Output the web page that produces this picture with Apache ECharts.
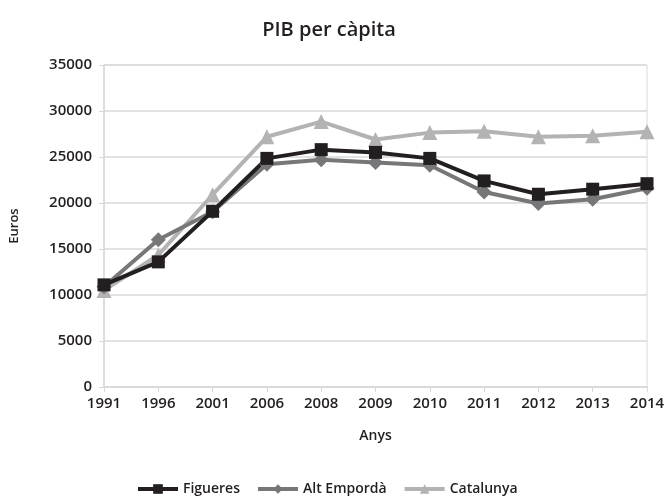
<!DOCTYPE html>
<html>
<head>
<meta charset="utf-8">
<script src="https://cdn.jsdelivr.net/npm/echarts@6/dist/echarts.min.js"></script>
<style>
  html, body { margin: 0; padding: 0; background: #fff; }
  #chart { width: 670px; height: 502px; }
</style>
</head>
<body>
<div id="chart"></div>
<script>
// dades llegides del gràfic
const years = ["1991", "1996", "2001", "2006", "2008", "2009", "2010", "2011", "2012", "2013", "2014"];
const figueres = [11100, 13600, 19100, 24850, 25800, 25500, 24850, 22400, 20950, 21500, 22100];
const altEmporda = [10900, 16000, 19050, 24200, 24700, 24400, 24100, 21200, 19950, 20400, 21600];
const catalunya = [10500, 14350, 20900, 27200, 28850, 26900, 27650, 27800, 27200, 27300, 27750];

const font = "'Open Sans', 'Noto Sans', sans-serif";
const ink = "#231f20";
const chart = echarts.init(document.getElementById("chart"));

function serie(name, data, color, symbol, size) {
  return {
    name: name,
    type: "line",
    data: data,
    symbol: symbol,
    symbolSize: size,
    lineStyle: { color: color, width: 4 },
    itemStyle: { color: color },
    animation: false,
  };
}

chart.setOption({
  title: {
    text: "PIB per càpita",
    left: 324,
    textAlign: "center",
    top: 15,
    textStyle: { fontFamily: font, fontSize: 20, fontWeight: 600, color: ink },
  },
  grid: {
    left: 101,
    right: 23,
    top: 65,
    bottom: 115,
    show: true,
    borderColor: "#d9d9d9",
    borderWidth: 1,
  },
  legend: {
    bottom: 1,
    left: 131,
    itemWidth: 40,
    itemHeight: 12,
    itemGap: 16,
    lineStyle: { width: 4 },
    textStyle: { fontFamily: font, fontSize: 14, fontWeight: 600, color: ink },
    data: ["Figueres", "Alt Empordà", "Catalunya"],
  },
  xAxis: {
    type: "category",
    data: years,
    boundaryGap: false,
    name: "Anys",
    nameLocation: "middle",
    nameGap: 42,
    nameTextStyle: { fontFamily: font, fontSize: 14, fontWeight: 600, color: ink },
    axisLine: { lineStyle: { color: "#d9d9d9", width: 1.5 } },
    axisTick: { show: true, length: 5, lineStyle: { color: "#d9d9d9" } },
    axisLabel: { fontFamily: font, fontSize: 15, fontWeight: 600, color: ink, margin: 9 },
  },
  yAxis: {
    type: "value",
    min: 0,
    max: 35000,
    interval: 5000,
    name: "Euros",
    nameLocation: "middle",
    nameGap: 83,
    nameTextStyle: { fontFamily: font, fontSize: 13, fontWeight: 600, color: ink },
    axisLine: { show: true, lineStyle: { color: "#d9d9d9", width: 1.5 } },
    axisTick: { show: true, length: 5, lineStyle: { color: "#d9d9d9" } },
    axisLabel: {
      fontFamily: font, fontSize: 15, fontWeight: 600, color: ink, margin: 12,
      formatter: (v) => String(v),
    },
    splitLine: { lineStyle: { color: "#d9d9d9", width: 1.5 } },
  },
  series: [
    serie("Catalunya", catalunya, "#b3b3b3", "triangle", 15),
    serie("Alt Empordà", altEmporda, "#77777a", "diamond", 15),
    serie("Figueres", figueres, ink, "rect", 13),
  ],
});
</script>
</body>
</html>
